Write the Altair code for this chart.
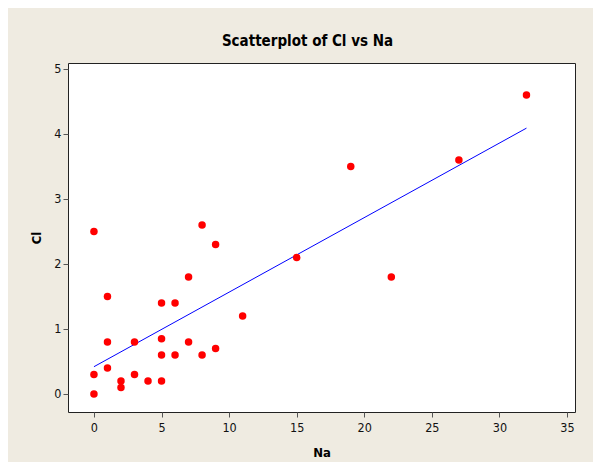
import altair as alt
import pandas as pd

# Data
na = [0, 0, 0, 1, 1, 1, 2, 2, 3, 3, 4, 5, 5, 5, 5, 6, 6, 7, 7, 8, 8, 9, 9,
      11, 15, 19, 22, 27, 32]
cl = [2.5, 0.3, 0.0, 1.5, 0.8, 0.4, 0.2, 0.1, 0.8, 0.3, 0.2, 0.2, 0.6, 0.85,
      1.4, 1.4, 0.6, 1.8, 0.8, 2.6, 0.6, 2.3, 0.7, 1.2, 2.1, 3.5, 1.8, 3.6, 4.6]
x_ticks = [0, 5, 10, 15, 20, 25, 30, 35]
y_ticks = [0, 1, 2, 3, 4, 5]

df = pd.DataFrame({"Na": na, "Cl": cl})

FONT = "DejaVu Sans Condensed, DejaVu Sans"
W, H = 507, 349

xs = alt.Scale(domain=[-1.92, 35.59], nice=False, zero=False)
ys = alt.Scale(domain=[-0.277, 5.092], nice=False, zero=False)

x_axis = alt.Axis(values=x_ticks, format="d", title="Na", titleX=W / 2,
                  titleY=40, titleBaseline="middle", labelPadding=4)
y_axis = alt.Axis(values=y_ticks, format="d", title="Cl", titleX=-32,
                  titleY=H / 2, titleBaseline="middle", titleAngle=270,
                  labelPadding=2)

base = alt.Chart(df)

points = base.mark_circle(size=56, color="#FF0000", opacity=1).encode(
    x=alt.X("Na:Q", scale=xs, axis=x_axis),
    y=alt.Y("Cl:Q", scale=ys, axis=y_axis),
)

fit = base.transform_regression("Na", "Cl").mark_line(
    color="#0000FF", strokeWidth=1
).encode(
    x=alt.X("Na:Q", scale=xs),
    y=alt.Y("Cl:Q", scale=ys),
)

chart = alt.layer(fit, points).properties(
    width=W,
    height=H,
    title=alt.TitleParams(
        "Scatterplot of Cl vs Na", anchor="middle", dx=-14, dy=15, offset=17,
        baseline="alphabetic", font=FONT, fontSize=15, fontWeight="bold",
        color="#000000",
    ),
    background="#EFEBE1",
    autosize=alt.AutoSizeParams(type="none"),
    padding={"left": 60, "top": 55, "right": 18, "bottom": 50},
).configure_view(
    fill="#FFFFFF", stroke="#222222", strokeWidth=1
).configure_axis(
    domain=False, grid=False, ticks=True, tickSize=5, tickColor="#555555",
    labelFont=FONT, labelFontSize=12.5, labelColor="#111111",
    titleFont=FONT, titleFontSize=13, titleFontWeight="bold",
    titleColor="#000000",
)

chart.save("out.html", embed_options={"renderer": "svg", "actions": False})
